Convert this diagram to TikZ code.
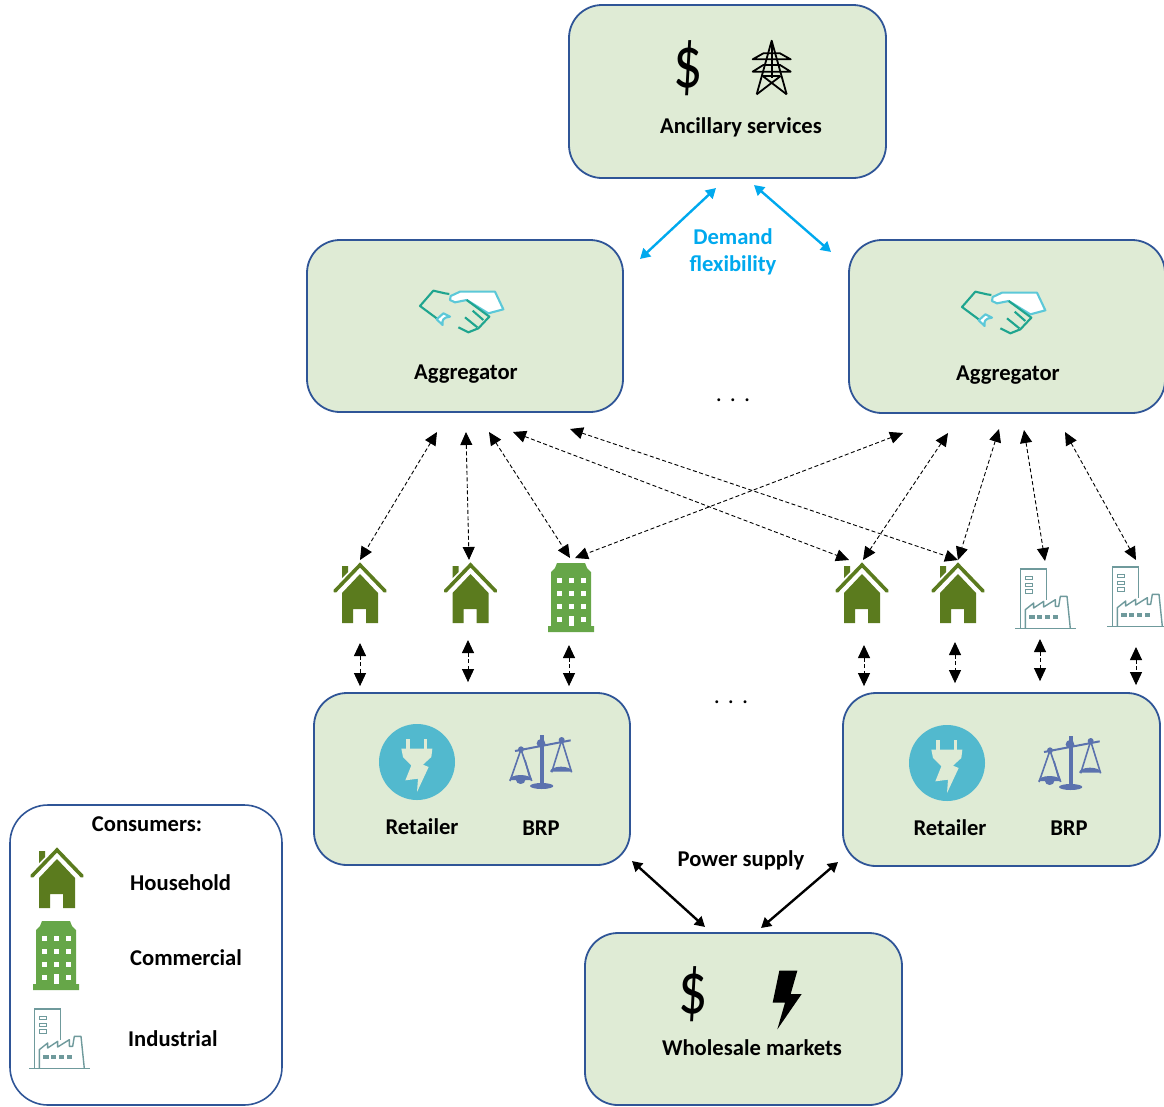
\documentclass[tikz,border=0pt]{standalone}
\usepackage{fontspec}
\setmainfont{Carlito}
\usetikzlibrary{arrows.meta}
\definecolor{boxfill}{HTML}{DFEBD5}
\definecolor{boxline}{HTML}{2F5597}
\definecolor{flexblue}{HTML}{00A9EE}
\definecolor{housegreen}{HTML}{5B7B1E}
\definecolor{bldgreen}{HTML}{66A648}
\definecolor{factline}{HTML}{6F9A9C}
\definecolor{handteal}{HTML}{1FA58F}
\definecolor{handcyan}{HTML}{5CC8D8}
\definecolor{plugblue}{HTML}{52B9CE}
\definecolor{scaleblue}{HTML}{5B72AE}
\tikzset{
  x=1pt,y=-1pt,
  panel/.style={draw=boxline,line width=1.8pt,fill=boxfill,rounded corners=33pt,inner sep=0pt},
  legendbox/.style={draw=boxline,line width=1.6pt,fill=white,rounded corners=38pt,inner sep=0pt},
  lab/.style={font=\fontsize{22.6}{24}\bfseries\selectfont,inner sep=0pt,text=black},
  flexlab/.style={lab,text=flexblue,align=center},
  dotslab/.style={font=\fontsize{24}{24}\selectfont,inner sep=0pt},
  dollar/.style={font=\fontsize{58}{58}\selectfont,inner sep=0pt,yscale=1.28,transform shape},
  slot/.style={inner sep=0pt,outer sep=0pt},
  dashlink/.style={dash pattern=on 4pt off 2.5pt,line width=.9pt,{Triangle[length=13pt,width=12pt]}-{Triangle[length=13pt,width=12pt]}},
  flexlink/.style={draw=flexblue,line width=2.4pt,{Triangle[length=10pt,width=11pt]}-{Triangle[length=10pt,width=11pt]}},
  supplylink/.style={draw=black,line width=2.4pt,{Triangle[length=10pt,width=11pt]}-{Triangle[length=10pt,width=11pt]}},
  house/.pic={
    \fill[housegreen] (-18,3)--(-12,3)--(-12,9)--(-18,15)--cycle;
    \draw[housegreen,line width=3.6pt,line cap=round,line join=miter] (-25,28)--(0,2)--(25,28);
    \fill[housegreen] (0,11)--(18,30)--(18,60)--(6,60)--(6,46)--(-7,46)--(-7,60)--(-18,60)--(-18,30)--cycle;
  },
  building/.pic={
    \fill[bldgreen] (-14,0)--(14,0)--(16,5)--(20,9)--(20,63)--(23,63)--(23,69)--(-23,69)--(-23,63)--(-20,63)--(-20,9)--(-16,5)--cycle;
    \foreach \wx in {-12,0,12}\foreach \wy in {17,30,43}{\fill[white] (\wx-2.5,\wy-2.5) rectangle (\wx+2.5,\wy+2.5);}
    \fill[white] (-14.5,53.5) rectangle (-9.5,58.5);
    \fill[white] (-2.5,52.5) rectangle (2.5,62.5);
    \fill[white] (9.5,53.5) rectangle (14.5,58.5);
  },
  factory/.pic={
    \begin{scope}[scale=1/3,shift={(-137,-58)}]
      \draw[factline,line width=1.4pt] (45,237)--(228,237);
      \draw[factline,line width=1.4pt] (60,237)--(60,58)--(138,58)--(138,150);
      \draw[factline,line width=1.4pt,line join=round] (75,237)--(75,180)--(100,160)--(100,175)--(130,155)--(130,172)--(165,150)--(165,170)--(175,170)--(180,140)--(200,140)--(210,237);
      \foreach \wy in {85,105,125}{\draw[factline,line width=1pt] (74,\wy-5) rectangle (95,\wy+5);}
      \foreach \wx in {95,118,142,165}{\fill[factline] (\wx-8,197) rectangle (\wx+8,207);}
    \end{scope}
  },
  handshake/.pic={
    \begin{scope}[scale=1/3]
      \draw[handteal,line width=2.1pt,line join=round] (148,72)--(135,70)--(100,62)--(60,108)--(110,145);
      \draw[handcyan,line width=2.1pt,fill=white,line join=round] (150,90)--(152,78)--(180,65)--(285,65)--(310,118)--(265,130)--(200,90)--(165,97)--cycle;
      \draw[handcyan,line width=2.1pt,fill=white,line join=round] (110,148)--(130,130)--(150,140) .. controls (130,142) and (125,150) .. (128,165)--cycle;
      \draw[handteal,line width=2.1pt,line join=round] (200,90)--(268,140)--(235,175)--(205,187)--(175,172);
      \draw[handteal,line width=2.1pt] (218,122)--(250,150);
      \draw[handteal,line width=2.1pt] (195,142)--(232,172);
    \end{scope}
  },
  plug/.pic={
    \fill[plugblue] (0,0) circle[radius=38];
    \begin{scope}[scale=1/3,shift={(-172,-140)}]
      \fill[boxfill] (140,70) rectangle (151,102);
      \fill[boxfill] (192,70) rectangle (203,102);
      \fill[boxfill] (125,100)--(218,100)--(215,125)--(190,148)--(207,155)--(172,230)--(175,190)--(137,195)--(155,150)--(130,125)--cycle;
    \end{scope}
  },
  scales/.pic={
    \begin{scope}[scale=1/3]
      \draw[scaleblue,line width=2pt] (465,108)--(632,76);
      \draw[scaleblue,line width=4pt] (545,60)--(545,210);
      \fill[scaleblue] (543,85) circle[radius=13];
      \fill[scaleblue] (483,103) circle[radius=9];
      \fill[scaleblue] (605,75) circle[radius=9];
      \fill[scaleblue] (545,213) ellipse[x radius=35,y radius=9];
      \draw[scaleblue,line width=1.6pt] (450,198)--(483,103)--(515,198);
      \draw[scaleblue,line width=1.6pt] (575,172)--(605,75)--(635,172);
      \fill[scaleblue] (448,195) arc[start angle=180,end angle=360,x radius=34,y radius=15]--cycle;
      \fill[scaleblue] (570,170) arc[start angle=180,end angle=360,x radius=33,y radius=15]--cycle;
      \draw[scaleblue,line width=1.6pt] (495,135)--(510,190);
      \fill[scaleblue] (468,195) arc[start angle=180,end angle=360,x radius=14,y radius=-12]--cycle;
    \end{scope}
  },
  tower/.pic={
    \begin{scope}[scale=1/3,line width=1.8pt,line join=round]
      \draw (560,283)--(605,122)--(650,283);
      \draw (548,178)--(580,160)--(630,160)--(662,178)--cycle;
      \draw (548,215)--(580,195)--(630,195)--(662,215)--cycle;
      \draw (605,125)--(605,235);
      \draw (578,228)--(650,283);
      \draw (632,228)--(560,283);
      \draw (580,228)--(630,228);
    \end{scope}
  },
  bolt/.pic={
    \fill[black,scale=1/3] (388,62)--(442,62)--(422,132)--(455,132)--(382,238)--(405,158)--(368,158)--cycle;
  }
}
\begin{document}
\begin{tikzpicture}
\useasboundingbox (0,0) rectangle (1164,1106);
% panels
\node[panel,minimum width=317pt,minimum height=173pt] (anc) at (727.5,91.5) {};
\node[panel,minimum width=316pt,minimum height=172pt] (ag1) at (465,326) {};
\node[panel,minimum width=316pt,minimum height=173pt] (ag2) at (1007,326.5) {};
\node[panel,minimum width=316pt,minimum height=172pt] (re1) at (472,779) {};
\node[panel,minimum width=317pt,minimum height=173pt] (re2) at (1001.5,779.5) {};
\node[panel,minimum width=317pt,minimum height=172pt] (whs) at (743.5,1019) {};
\node[legendbox,minimum width=272pt,minimum height=300pt] (leg) at (146,955) {};
% panel icons and labels
\node[dollar] (d1) at (688,68) {\$};
\pic at (570,0) {tower};
\node[lab] (tanc) at (741,127) {Ancillary services};
\pic at (400,270) {handshake};
\node[lab] (tag1) at (466,374) {Aggregator};
\pic at (942,271) {handshake};
\node[lab] (tag2) at (1008,375) {Aggregator};
\node[flexlab] (tflex) at (733,251.5) {Demand\\[3pt]flexibility};
\node[dotslab] (dots1) at (733,400) {.\,\,.\,\,.};
\node[dotslab] (dots2) at (731,702) {.\,\,.\,\,.};
\pic at (417,762) {plug};
\pic at (360,715) {scales};
\node[lab] (tr1) at (422,827) {Retailer};
\node[lab] (tb1) at (541,828) {BRP};
\pic at (947,763) {plug};
\pic at (889,716) {scales};
\node[lab] (tr2) at (950,828) {Retailer};
\node[lab] (tb2) at (1069,828) {BRP};
\node[lab] (tps) at (741,860) {Power supply};
\node[dollar] (d2) at (693,994) {\$};
\pic at (650,950) {bolt};
\node[lab] (twh) at (752,1048) {Wholesale markets};
% consumers
\pic at (360,563) {house};
\pic at (470.5,563) {house};
\pic at (571,563) {building};
\pic at (862,563) {house};
\pic at (958,563) {house};
\pic at (1046,569) {factory};
\pic at (1138,567) {factory};
\node[slot,minimum width=54pt,minimum height=83pt] (h1) at (360,601.5) {};
\node[slot,minimum width=54pt,minimum height=80pt] (h2) at (469,600) {};
\node[slot,minimum width=46pt,minimum height=87pt] (b1) at (570,601.5) {};
\node[slot,minimum width=54pt,minimum height=85pt] (h3) at (863,602.5) {};
\node[slot,minimum width=54pt,minimum height=82pt] (h4) at (956,601) {};
\node[slot,minimum width=60pt,minimum height=78pt] (f1) at (1042,600) {};
\node[slot,minimum width=56pt,minimum height=87pt] (f2) at (1136,603.5) {};
% legend
\node[lab] (tcons) at (147,824) {Consumers:};
\pic at (57,848) {house};
\node[lab,anchor=west] (thh) at (130,883) {Household};
\pic at (56,921) {building};
\node[lab,anchor=west] (tco) at (130,958) {Commercial};
\pic at (60,1009) {factory};
\node[lab,anchor=west] (tin) at (128,1039) {Industrial};
% free ends under the aggregators
\coordinate (a1) at (437,432);
\coordinate (a2) at (466,432);
\coordinate (a3) at (489,432);
\coordinate (a4) at (513,432);
\coordinate (a5) at (570,429);
\coordinate (c1) at (903,433);
\coordinate (c2) at (948,433);
\coordinate (c3) at (999,429);
\coordinate (c4) at (1024,430);
\coordinate (c5) at (1065,432);
% flexibility and supply links
\coordinate (fa) at (716,188);
\coordinate (fb) at (754,185);
\coordinate (fc) at (640,259);
\coordinate (fd) at (831,252);
\draw[flexlink] (fc) -- (fa);
\draw[flexlink] (fb) -- (fd);
\coordinate (sa) at (632,861);
\coordinate (sb) at (705,927);
\coordinate (sc) at (761,928);
\coordinate (sd) at (838,862);
\draw[supplylink] (sa) -- (sb);
\draw[supplylink] (sc) -- (sd);
% aggregator to consumer
\draw[dashlink] (a1) -- (h1.north);
\draw[dashlink] (a2) -- (h2.north);
\draw[dashlink] (a3) -- (b1.north);
\draw[dashlink] (a4) -- ([xshift=-14pt]h3.north);
\draw[dashlink] (a5) -- ([xshift=2pt]h4.north);
\draw[dashlink] (c1) -- ([xshift=5pt]b1.north);
\draw[dashlink] (c2) -- (h3.north);
\draw[dashlink] (c3) -- ([xshift=2pt]h4.north);
\draw[dashlink] (c4) -- ([xshift=3pt]f1.north);
\draw[dashlink] (c5) -- (f2.north);
% consumer to retailer
\draw[dashlink,shorten >=6pt] (h1.south) -- (h1.south |- re1.north);
\draw[dashlink,shorten >=10pt] ([xshift=-1pt]h2.south) -- ([xshift=-1pt]h2.south |- re1.north);
\draw[dashlink,shorten >=6pt] ([xshift=-1pt]b1.south) -- ([xshift=-1pt]b1.south |- re1.north);
\draw[dashlink,shorten >=6pt] ([xshift=1pt]h3.south) -- ([xshift=1pt]h3.south |- re2.north);
\draw[dashlink,shorten >=9pt] ([xshift=-1pt]h4.south) -- ([xshift=-1pt]h4.south |- re2.north);
\draw[dashlink,shorten >=11pt] ([xshift=-2pt]f1.south) -- ([xshift=-2pt]f1.south |- re2.north);
\draw[dashlink,shorten >=7pt] (f2.south) -- (f2.south |- re2.north);
\end{tikzpicture}
\end{document}
